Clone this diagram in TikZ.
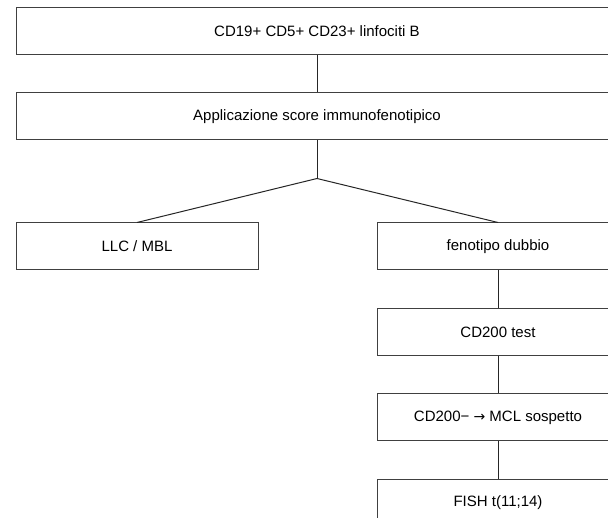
\documentclass[tikz,border=0pt]{standalone}
\usepackage{fontspec}
\setmainfont{Liberation Sans}
\newfontfamily\arrowfont{DejaVu Sans}
\usepackage{tikz}
\usetikzlibrary{positioning}

\begin{document}
\begin{tikzpicture}[
                x=1pt, y=1pt,
                font=\fontsize{15}{18}\selectfont,
                widebox/.style={draw=black!75, line width=1pt, minimum width=602pt, minimum height=47pt, inner sep=0pt},
                box/.style={draw=black!75, line width=1pt, minimum width=242pt, minimum height=47pt, inner sep=0pt},
                link/.style={draw=black!85, line width=1pt},
                node distance=37.5pt,
            ]
                \useasboundingbox (0,0) rectangle (608,-518);
                \clip (0,0) rectangle (608,-518);

                % Boxes
                \node[widebox] (cells) at (317,-31.5) {CD19+ CD5+ CD23+ linfociti B};
                \node[widebox, below=37pt of cells] (score) {Applicazione score immunofenotipico};
                \coordinate[below=38pt of score] (split);

                % Branches
                \node[box] (llc) at (137,-246.5) {LLC / MBL};
                \node[box] (dubbio) at (498,-246.5) {fenotipo dubbio};
                \node[box, below=of dubbio] (cd200) {CD200 test};
                \node[box, below=of cd200] (mcl) {CD200− {\arrowfont\fontsize{14}{18}\selectfont →} MCL sospetto};
                \node[box, below=of mcl] (fish) {FISH t(11;14)};

                % Connectors
                \draw[link] (cells.south) -- (score.north);
                \draw[link] (score.south) -- (split);
                \draw[link] (split) -- (llc.north);
                \draw[link] (split) -- (dubbio.north);
                \draw[link] (dubbio.south) -- (cd200.north);
                \draw[link] (cd200.south) -- (mcl.north);
                \draw[link] (mcl.south) -- (fish.north);
            \end{tikzpicture}
\end{document}
